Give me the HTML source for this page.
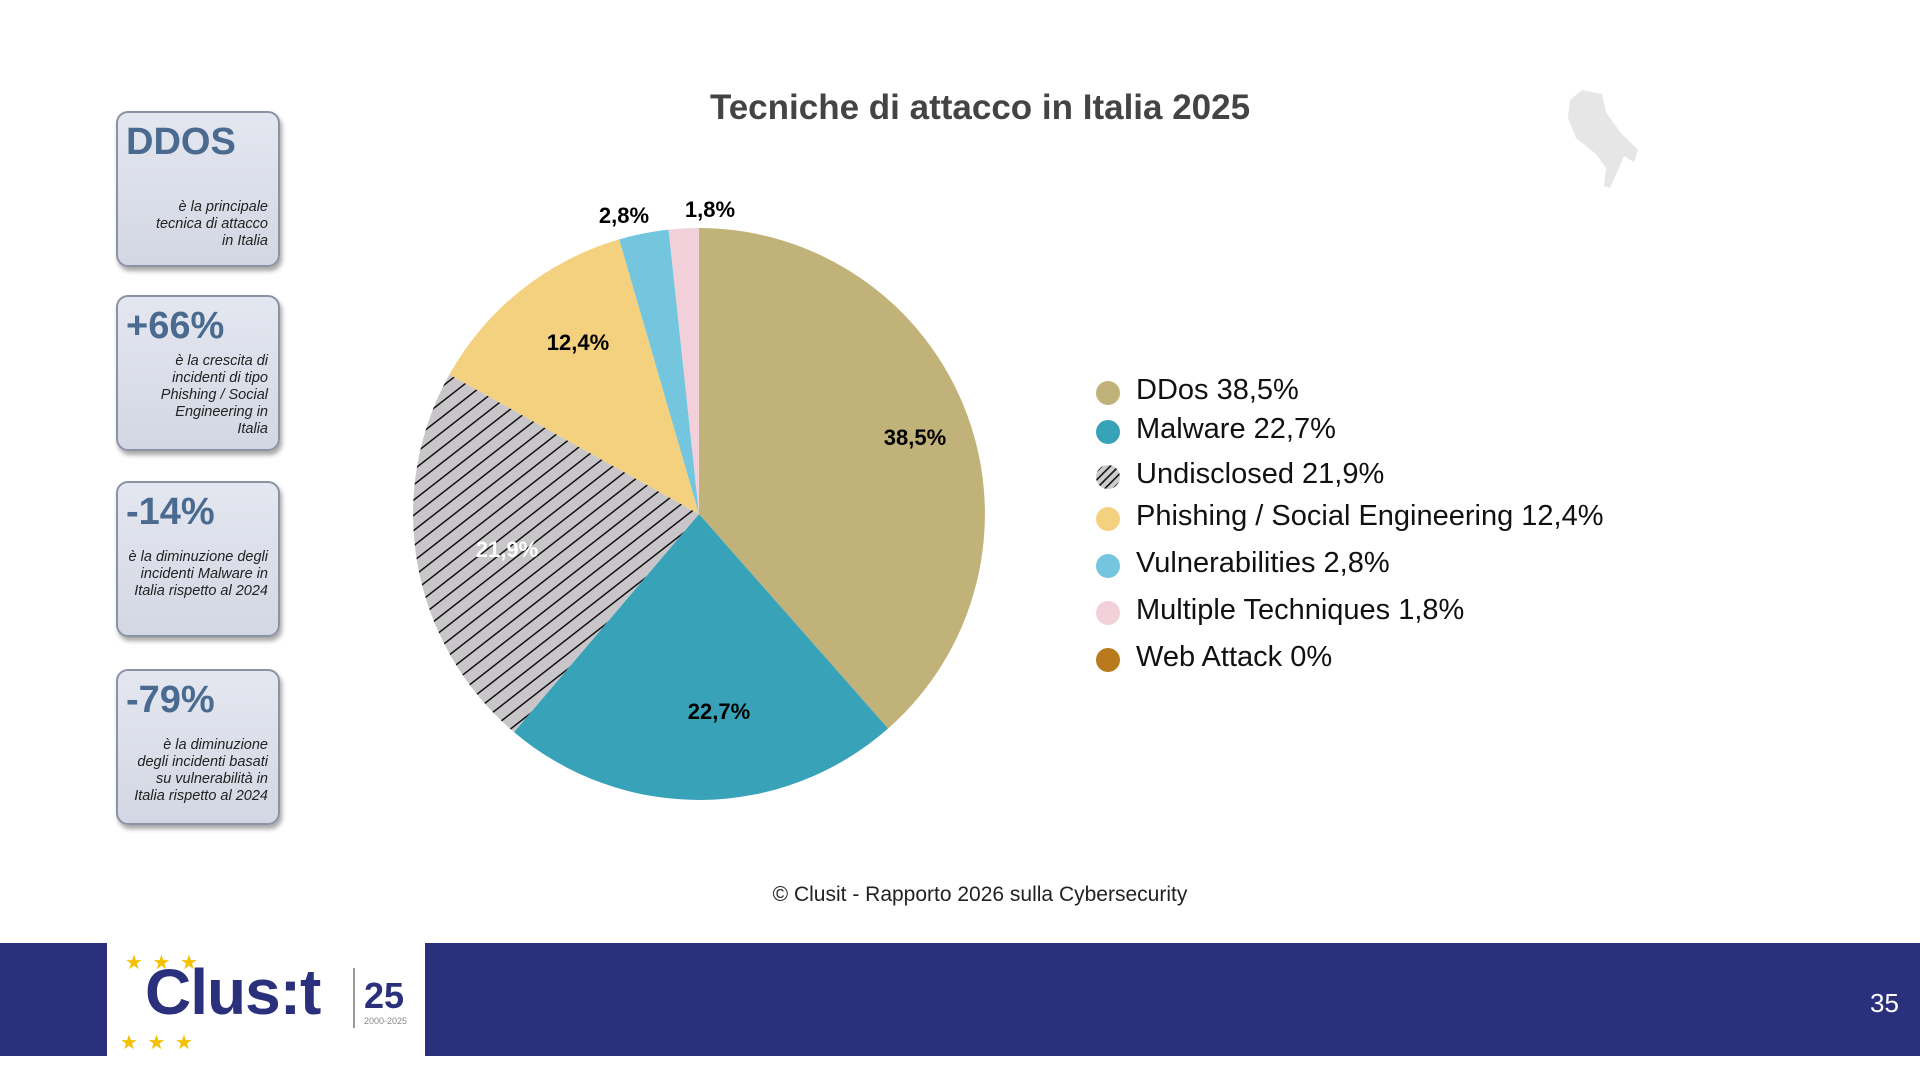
<!DOCTYPE html>
<html><head><meta charset="utf-8"><style>
body{margin:0;width:1920px;height:1080px;background:#fff;position:relative;overflow:hidden;font-family:"Liberation Sans",sans-serif}
.box{position:absolute;left:116px;width:164px;height:156px;border:2px solid #8a93a6;border-radius:12px;background:linear-gradient(#e4e7f0,#d3d7e3);box-shadow:2px 4px 5px rgba(0,0,0,.35);box-sizing:border-box}
.box .h{position:absolute;left:8px;top:8px;font-weight:bold;font-size:38px;color:#4a6a90}
.box .t{position:absolute;right:10px;text-align:right;font-style:italic;font-size:14.5px;line-height:17px;color:#222}
.lg{position:absolute;left:1096px;font-size:29px;color:#111}
.lg i{position:absolute;left:0;top:7px;width:24px;height:24px;border-radius:50%}
.lg span{position:absolute;left:40px;white-space:nowrap}
</style></head><body>
<div class="box" style="top:111px"><div class="h">DDOS</div><div class="t" style="top:86px">è la principale<br>tecnica di attacco<br>in Italia</div></div>
<div class="box" style="top:295px"><div class="h">+66%</div><div class="t" style="top:56px">è la crescita di<br>incidenti di tipo<br>Phishing / Social<br>Engineering in<br>Italia</div></div>
<div class="box" style="top:481px"><div class="h">-14%</div><div class="t" style="top:66px">è la diminuzione degli<br>incidenti Malware in<br>Italia rispetto al 2024</div></div>
<div class="box" style="top:669px"><div class="h">-79%</div><div class="t" style="top:66px">è la diminuzione<br>degli incidenti basati<br>su vulnerabilità in<br>Italia rispetto al 2024</div></div>
<div style="position:absolute;left:0;width:1960px;top:88px;text-align:center;font-weight:bold;font-size:35px;color:#444">Tecniche di attacco in Italia 2025</div>
<svg style="position:absolute;left:0;top:0" width="1920" height="1080">
<defs><pattern id="h" patternUnits="userSpaceOnUse" width="12" height="12" patternTransform="rotate(-38)"><rect width="12" height="12" fill="#c9c6c9"/><line x1="0" y1="0" x2="12" y2="0" stroke="#111" stroke-width="3"/></pattern></defs>
<path d="M699 514L699 228A286 286 0 0 1 888.1 728.5Z" fill="#c1b27a"/>
<path d="M699 514L888.1 728.5A286 286 0 0 1 514 732.1Z" fill="#38a3b8"/>
<path d="M699 514L514 732.1A286 286 0 0 1 449.4 374.5Z" fill="url(#h)"/>
<path d="M699 514L449.4 374.5A286 286 0 0 1 619.2 239.4Z" fill="#f4d17f"/>
<path d="M699 514L619.2 239.4A286 286 0 0 1 668.6 229.6Z" fill="#74c6de"/>
<path d="M699 514L668.6 229.6A286 286 0 0 1 699 228Z" fill="#f1d0da"/>
<g font-family="Liberation Sans" font-weight="bold" font-size="22" text-anchor="middle">
<text x="915" y="445">38,5%</text><text x="719" y="719">22,7%</text><text x="507" y="557" fill="#fff">21,9%</text>
<text x="578" y="350">12,4%</text><text x="624" y="223">2,8%</text><text x="710" y="217">1,8%</text></g>
<path d="M1570 100l12-10 20 4 4 18 14 20 18 18 -4 12 -10 -6 -6 14 -8 18 -6-2 2-18 -10-14 -20-16 -8-20z" fill="#e6e6e6"/>
</svg>
<div class="lg" style="top:374px"><i style="background:#c1b27a"></i><span>DDos 38,5%</span></div>
<div class="lg" style="top:413px"><i style="background:#38a3b8"></i><span>Malware 22,7%</span></div>
<div class="lg" style="top:458px"><i style="background:repeating-linear-gradient(135deg,#ccc 0 4px,#222 4px 6px)"></i><span>Undisclosed 21,9%</span></div>
<div class="lg" style="top:500px"><i style="background:#f4d17f"></i><span>Phishing / Social Engineering 12,4%</span></div>
<div class="lg" style="top:547px"><i style="background:#74c6de"></i><span>Vulnerabilities 2,8%</span></div>
<div class="lg" style="top:594px"><i style="background:#f1d0da"></i><span>Multiple Techniques 1,8%</span></div>
<div class="lg" style="top:641px"><i style="background:#b87a1c"></i><span>Web Attack 0%</span></div>
<div style="position:absolute;left:0;width:1960px;top:883px;text-align:center;font-size:21px;color:#222">© Clusit - Rapporto 2026 sulla Cybersecurity</div>
<div style="position:absolute;left:0;top:943px;width:1920px;height:113px;background:#2a307c"></div>
<div style="position:absolute;left:107px;top:943px;width:318px;height:113px;background:#fff"></div>
<div style="position:absolute;left:145px;top:955px;font-weight:bold;font-size:64px;color:#2a307c;letter-spacing:-1px">Clus:t</div>
<div style="position:absolute;left:353px;top:968px;width:2px;height:60px;background:#999"></div>
<div style="position:absolute;left:364px;top:975px;font-weight:bold;font-size:36px;color:#2a307c">25</div>
<div style="position:absolute;left:364px;top:1016px;font-size:9px;color:#888">2000-2025</div>
<div style="position:absolute;left:125px;top:950px;font-size:20px;color:#f2c200;letter-spacing:2px">★ ★ ★</div>
<div style="position:absolute;left:120px;top:1030px;font-size:20px;color:#f2c200;letter-spacing:2px">★ ★ ★</div>
<div style="position:absolute;left:1870px;top:988px;font-size:26px;color:#fff">35</div>
</body></html>
